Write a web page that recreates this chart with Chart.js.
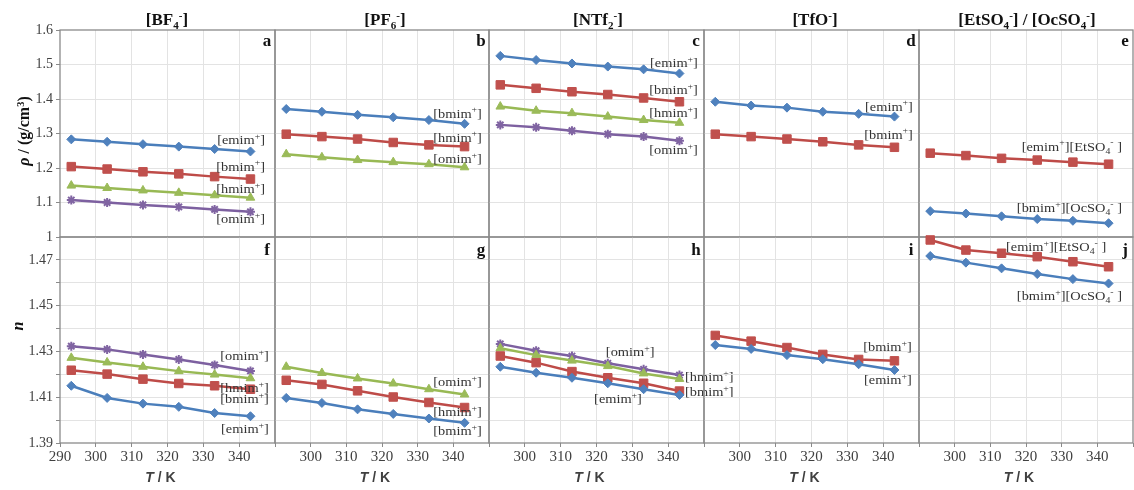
<!DOCTYPE html>
<html><head><meta charset="utf-8">
<script src="https://cdn.jsdelivr.net/npm/chart.js@4.4.0/dist/chart.umd.min.js"></script>
<style>
html,body{margin:0;padding:0;background:#fff}
body{width:1134px;height:490px;overflow:hidden;position:relative;font-family:'Liberation Serif',serif}
canvas{position:absolute;left:0;top:0}
.t{position:absolute;transform:translate(-50%,-50%);white-space:nowrap;color:#111;line-height:1}
.ttl{font-weight:bold;font-size:17px}
.lt{font-weight:bold;font-size:17px}
.sb{font-size:65%;position:relative;top:0.35em}
.sp{font-size:65%;position:relative;top:-0.5em}
.xt{font-family:'Liberation Sans',sans-serif;font-weight:bold;font-size:14px;color:#404040}
.yt{font-weight:bold;font-size:16px}
</style></head>
<body>
<script>
// ---------- data ----------
const temperatures = [293.15, 303.15, 313.15, 323.15, 333.15, 343.15];
const xTicksK = [290, 300, 310, 320, 330, 340, 350];
const rhoTicks = [1.0, 1.1, 1.2, 1.3, 1.4, 1.5, 1.6];
const nTicks = [1.39, 1.40, 1.41, 1.42, 1.43, 1.44, 1.45, 1.46, 1.47, 1.48];

// density rho / (g/cm3)
const rho_BF4_emim = [1.283, 1.276, 1.269, 1.262, 1.255, 1.248];
const rho_BF4_bmim = [1.204, 1.197, 1.189, 1.183, 1.175, 1.168];
const rho_BF4_hmim = [1.149, 1.142, 1.135, 1.128, 1.121, 1.114];
const rho_BF4_omim = [1.107, 1.100, 1.093, 1.087, 1.080, 1.073];
const rho_PF6_bmim = [1.371, 1.363, 1.354, 1.347, 1.339, 1.328];
const rho_PF6_hmim = [1.298, 1.291, 1.284, 1.274, 1.267, 1.262];
const rho_PF6_omim = [1.240, 1.231, 1.223, 1.217, 1.211, 1.202];
const rho_NTf2_emim = [1.525, 1.513, 1.503, 1.494, 1.486, 1.474];
const rho_NTf2_bmim = [1.441, 1.431, 1.421, 1.413, 1.403, 1.392];
const rho_NTf2_hmim = [1.378, 1.366, 1.359, 1.349, 1.339, 1.331];
const rho_NTf2_omim = [1.325, 1.318, 1.308, 1.298, 1.291, 1.279];
const rho_TfO_emim = [1.392, 1.381, 1.375, 1.363, 1.357, 1.349];
const rho_TfO_bmim = [1.298, 1.291, 1.284, 1.276, 1.267, 1.260];
const rho_emimEtSO4 = [1.243, 1.236, 1.228, 1.223, 1.217, 1.211];
const rho_bmimOcSO4 = [1.075, 1.068, 1.060, 1.052, 1.047, 1.040];

// refractive index n
const n_BF4_omim = [1.4323, 1.4309, 1.4287, 1.4265, 1.4241, 1.4215];
const n_BF4_hmim = [1.4272, 1.4252, 1.4233, 1.4214, 1.4199, 1.4183];
const n_BF4_bmim = [1.4218, 1.4201, 1.4179, 1.4160, 1.4150, 1.4135];
const n_BF4_emim = [1.4150, 1.4097, 1.4072, 1.4058, 1.4031, 1.4017];
const n_PF6_omim = [1.4233, 1.4206, 1.4182, 1.4160, 1.4135, 1.4112];
const n_PF6_hmim = [1.4174, 1.4156, 1.4128, 1.4101, 1.4077, 1.4055];
const n_PF6_bmim = [1.4097, 1.4075, 1.4047, 1.4027, 1.4007, 1.3988];
const n_NTf2_omim = [1.4333, 1.4303, 1.4280, 1.4248, 1.4222, 1.4197];
const n_NTf2_hmim = [1.4314, 1.4284, 1.4260, 1.4236, 1.4204, 1.4180];
const n_NTf2_bmim = [1.4280, 1.4251, 1.4212, 1.4185, 1.4161, 1.4127];
const n_NTf2_emim = [1.4233, 1.4207, 1.4185, 1.4161, 1.4135, 1.4110];
const n_TfO_bmim = [1.4370, 1.4345, 1.4317, 1.4287, 1.4265, 1.4259];
const n_TfO_emim = [1.4328, 1.4311, 1.4284, 1.4266, 1.4244, 1.4219];
const n_emimEtSO4 = [1.4787, 1.4743, 1.4729, 1.4714, 1.4692, 1.4670];
const n_bmimOcSO4 = [1.4717, 1.4688, 1.4663, 1.4638, 1.4616, 1.4597];

// ---------- styles ----------
const S = {
  blue:   {fill:'#4f81bd', line:'#4a7ebb', shape:'rectRot',  r:4.5},
  red:    {fill:'#c0504d', line:'#be4b48', shape:'rect',     r:6},
  green:  {fill:'#9bbb59', line:'#98b954', shape:'triangle', r:5},
  purple: {fill:'#8064a2', line:'#7d60a0', shape:'star',     r:4.5}
};
const cat = n => [{t:'['+n},{t:'+',sup:1},{t:']'}];
const pair = (c,a) => [{t:'['+c},{t:'+',sup:1},{t:']['+a},{t:'4',sub:1},{t:'-',sup:1},{t:' ]'}];

const colX = [[60,275],[275,489],[489,704],[704,919],[919,1133]];
const rowY = [[30,237],[237,443]];

const panels = [
  {row:0,col:0,series:[[rho_BF4_emim,S.blue],[rho_BF4_bmim,S.red],[rho_BF4_hmim,S.green],[rho_BF4_omim,S.purple]],
   labels:[[cat('emim'),347.2,1.281,'right'],[cat('bmim'),347.2,1.203,'right'],[cat('hmim'),347.2,1.139,'right'],[cat('omim'),347.2,1.052,'right']]},
  {row:0,col:1,series:[[rho_PF6_bmim,S.blue],[rho_PF6_hmim,S.red],[rho_PF6_omim,S.green]],
   labels:[[cat('bmim'),348,1.357,'right'],[cat('hmim'),348,1.287,'right'],[cat('omim'),348,1.226,'right']]},
  {row:0,col:2,series:[[rho_NTf2_emim,S.blue],[rho_NTf2_bmim,S.red],[rho_NTf2_hmim,S.green],[rho_NTf2_omim,S.purple]],
   labels:[[cat('emim'),348.3,1.504,'right'],[cat('bmim'),348.3,1.426,'right'],[cat('hmim'),348.3,1.359,'right'],[cat('omim'),348.3,1.252,'right']]},
  {row:0,col:3,series:[[rho_TfO_emim,S.blue],[rho_TfO_bmim,S.red]],
   labels:[[cat('emim'),348.3,1.377,'right'],[cat('bmim'),348.3,1.296,'right']]},
  {row:0,col:4,series:[[rho_bmimOcSO4,S.blue],[rho_emimEtSO4,S.red]],
   labels:[[pair('emim','EtSO'),346.9,1.261,'right'],[pair('bmim','OcSO'),346.9,1.084,'right']]},
  {row:1,col:0,series:[[n_BF4_emim,S.blue],[n_BF4_bmim,S.red],[n_BF4_hmim,S.green],[n_BF4_omim,S.purple]],
   labels:[[cat('omim'),348.3,1.4279,'right'],[cat('hmim'),348.3,1.4139,'right'],[cat('bmim'),348.3,1.4091,'right'],[cat('emim'),348.3,1.3960,'right']]},
  {row:1,col:1,series:[[n_PF6_bmim,S.blue],[n_PF6_hmim,S.red],[n_PF6_omim,S.green]],
   labels:[[cat('omim'),348,1.4166,'right'],[cat('hmim'),348,1.4034,'right'],[cat('bmim'),348,1.3951,'right']]},
  {row:1,col:2,series:[[n_NTf2_emim,S.blue],[n_NTf2_bmim,S.red],[n_NTf2_hmim,S.green],[n_NTf2_omim,S.purple]],
   labels:[[cat('omim'),329.4,1.4297,'center'],[cat('hmim'),344.7,1.4187,'left'],[cat('bmim'),344.7,1.4122,'left'],[cat('emim'),326,1.4091,'center']]},
  {row:1,col:3,series:[[n_TfO_emim,S.blue],[n_TfO_bmim,S.red]],
   labels:[[cat('bmim'),348,1.4319,'right'],[cat('emim'),348,1.4174,'right']]},
  {row:1,col:4,series:[[n_bmimOcSO4,S.blue],[n_emimEtSO4,S.red]],
   labels:[[pair('emim','EtSO'),342.5,1.4756,'right'],[pair('bmim','OcSO'),346.9,1.4542,'right']]}
];

// ---------- plugins ----------
const LBL_FONT = "'Liberation Serif', serif";
const SX = 1.15;
function drawRich(ctx, segs, x, y, align){
  ctx.save();
  ctx.textBaseline = 'alphabetic';
  ctx.fillStyle = '#333';
  const fontOf = s => (s.sup||s.sub) ? '8.5px '+LBL_FONT : '12.5px '+LBL_FONT;
  let w = 0;
  segs.forEach(s => { ctx.font = fontOf(s); w += ctx.measureText(s.t).width * SX; });
  let cx = align==='right' ? x - w : align==='center' ? x - w/2 : x;
  const base = y + 4;
  segs.forEach(s => {
    ctx.font = fontOf(s);
    const dy = s.sup ? -5.5 : s.sub ? 3 : 0;
    ctx.save(); ctx.translate(cx, base + dy); ctx.scale(SX, 1);
    ctx.fillText(s.t, 0, 0);
    ctx.restore();
    cx += ctx.measureText(s.t).width * SX;
  });
  ctx.restore();
}
const labelPlugin = {
  id:'seriesLabels',
  afterDatasetsDraw(chart, args, opts){
    const {ctx} = chart; const xs = chart.scales.x, ys = chart.scales.y;
    (opts.labels||[]).forEach(l => drawRich(ctx, l[0], xs.getPixelForValue(l[1]), ys.getPixelForValue(l[2]), l[3]));
  }
};
const framePlugin = {
  id:'frame',
  beforeDatasetsDraw(chart){
    const {ctx, chartArea:a} = chart;
    ctx.save(); ctx.strokeStyle = '#8a8a8a'; ctx.lineWidth = 1.3;
    ctx.strokeRect(a.left, a.top, a.right-a.left, a.bottom-a.top);
    ctx.restore();
  }
};

// ---------- charts ----------
panels.forEach(p => {
  const cv = document.createElement('canvas');
  cv.width = 1134; cv.height = 490;
  document.body.appendChild(cv);
  const [x0,x1] = colX[p.col], [y0,y1] = rowY[p.row];
  const top = p.row===0;
  const showY = p.col===0, showX = !top;
  const yW = showY ? x0 : 0;
  const xH = showX ? 490 - y1 : 0;
  const yt = top ? rhoTicks : nTicks;
  const yMin = yt[0], yMax = yt[yt.length-1];
  new Chart(cv, {
    type:'line',
    data:{datasets: p.series.map(([vals, st]) => ({
      data: temperatures.map((t,i)=>({x:t, y:vals[i]})),
      borderColor: st.line, backgroundColor: st.fill,
      pointBackgroundColor: st.fill, pointBorderColor: st.fill,
      pointStyle: st.shape, pointRadius: st.r, pointBorderWidth: st.shape==='star'?2:1,
      borderWidth: 2.5, tension: 0, clip: false
    }))},
    options:{
      responsive:false, animation:false, devicePixelRatio:1,
      events:[],
      layout:{autoPadding:false, padding:{left:x0-yW, top:y0, right:1134-x1, bottom:490-y1-xH}},
      plugins:{legend:{display:false}, tooltip:{enabled:false}, seriesLabels:{labels:p.labels}},
      scales:{
        x:{type:'linear', min:xTicksK[0], max:xTicksK[xTicksK.length-1],
           afterFit(s){ s.height = xH; },
           afterBuildTicks(s){ s.ticks = xTicksK.map(v=>({value:v})); },
           border:{display:false},
           grid:{color: c => (c.tick && (c.tick.value===290||c.tick.value===350)) ? 'rgba(0,0,0,0)' : '#e3e3e3',
                 lineWidth:1, drawTicks: showX, tickLength:4, tickColor:'#8a8a8a'},
           ticks:{display: showX, padding:1, maxRotation:0, minRotation:0, autoSkip:false, color:'#404040',
                  font:{family:LBL_FONT, size:15},
                  callback: v => (v===350 || (v===290 && p.col>0)) ? '' : String(v)}},
        y:{type:'linear', min:yMin, max:yMax,
           afterFit(s){ s.width = yW; },
           afterBuildTicks(s){ s.ticks = yt.map(v=>({value:v})); },
           border:{display:false},
           grid:{color: c => (c.tick && (Math.abs(c.tick.value-yMin)<1e-9||Math.abs(c.tick.value-yMax)<1e-9)) ? 'rgba(0,0,0,0)' : '#e3e3e3',
                 lineWidth:1, drawTicks: showY, tickLength:4, tickColor:'#8a8a8a'},
           ticks:{display: showY, padding:3, autoSkip:false, color:'#404040',
                  font:{family:LBL_FONT, size:14},
                  callback: v => {
                    if (top) { const r = Math.round(v*10)/10; return r===1 ? '1' : r.toFixed(1); }
                    const k = Math.round(v*100); return k%2===1 ? (k/100).toFixed(2) : '';
                  }}}
      }
    },
    plugins:[framePlugin, labelPlugin]
  });
});

// ---------- static texts ----------
function addText(html, cls, x, y, extra){
  const d = document.createElement('div');
  d.className = 't ' + cls; d.innerHTML = html;
  d.style.left = x + 'px'; d.style.top = y + 'px';
  if (extra) d.style.transform = extra;
  document.body.appendChild(d);
}
const titles = ['[BF<span class="sb">4</span><span class="sp">-</span>]',
                '[PF<span class="sb">6</span><span class="sp">-</span>]',
                '[NTf<span class="sb">2</span><span class="sp">-</span>]',
                '[TfO<span class="sp">-</span>]',
                '[EtSO<span class="sb">4</span><span class="sp">-</span>] / [OcSO<span class="sb">4</span><span class="sp">-</span>]'];
const titleX = [167, 385, 598, 815, 1027];
titles.forEach((t,i)=>addText(t,'ttl',titleX[i],19));
const letters = ['a','b','c','d','e','f','g','h','i','j'];
letters.forEach((l,i)=>{
  const c = i%5, r = Math.floor(i/5);
  addText(l,'lt', colX[c][1]-8, r===0 ? 40 : 249);
});
colX.forEach(([a,b])=>addText('<i>T</i> / K','xt',(a+b)/2-7,477));
addText('<i>ρ</i> / (g/cm<span class="sp">3</span>)','yt',24,131,'translate(-50%,-50%) rotate(-90deg)');
addText('<i>n</i>','yt',18,326,'translate(-50%,-50%) rotate(-90deg)');
</script>
</body></html>
